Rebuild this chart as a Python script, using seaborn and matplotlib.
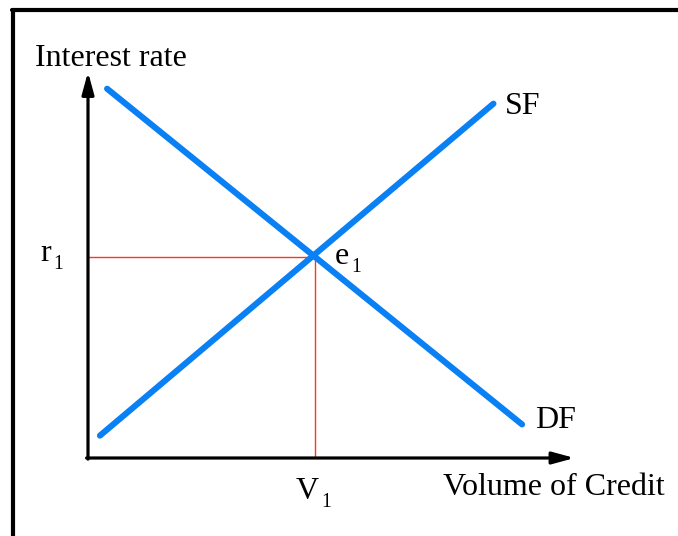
import matplotlib
matplotlib.use("Agg")
import matplotlib.pyplot as plt
from matplotlib.lines import Line2D
import seaborn as sns
import pandas as pd

# Datos del grafico (unidades arbitrarias, ejes de 0 a 10)
df_x = [0.4, 9.1]      # curva de demanda de fondos DF
df_y = [9.9, 0.9]
sf_x = [0.25, 8.5]     # curva de oferta de fondos SF
sf_y = [0.6, 9.5]
v1 = 4.75              # volumen de equilibrio
r1 = 5.4               # tasa de equilibrio

curvas = pd.DataFrame({
    "x": df_x + sf_x,
    "y": df_y + sf_y,
    "curva": ["DF", "DF", "SF", "SF"],
})

sns.set_theme(style="white")
plt.rcParams["font.family"] = ["Liberation Serif", "DejaVu Serif"]
plt.rcParams["text.color"] = "black"

fig = plt.figure(figsize=(6.78, 5.36), dpi=100)
fig.patch.set_facecolor("white")
ax = fig.add_axes([88 / 678, 78 / 536, (565 - 88) / 678, (458 - 85) / 536])
ax.set_xlim(0, 10)
ax.set_ylim(0, 10)
ax.axis("off")

# lineas rojas de equilibrio
ax.plot([0, v1], [r1, r1], color="#ff3322", lw=1.0, zorder=1)
ax.plot([v1, v1], [0, r1], color="#ff3322", lw=1.0, zorder=1)

# curvas
sns.lineplot(data=curvas, x="x", y="y", units="curva", estimator=None,
             color="#0a80f5", lw=4.4, ax=ax, legend=False,
             solid_capstyle="round", zorder=3)

# ejes con flechas
flecha = dict(arrowstyle="-|>,head_length=1.1,head_width=0.3", color="black",
              lw=2.3, shrinkA=0, shrinkB=0)
ax.annotate("", xy=(0, 10.35), xytext=(0, -0.03), arrowprops=flecha, annotation_clip=False)
ax.annotate("", xy=(10.2, 0), xytext=(-0.03, 0), arrowprops=flecha, annotation_clip=False)

fs = 23


def etiqueta(x, y, letra):
    # letra con subindice 1 (mas pequeno y mas abajo)
    ax.text(x, y, letra, fontsize=fs, ha="right", va="baseline", clip_on=False)
    ax.annotate("1", xy=(x, y), xytext=(1.5, -5.5), textcoords="offset points",
                fontsize=fs * 0.62, ha="left", va="baseline", annotation_clip=False)


ax.text(-1.11, 10.72, "Interest rate", fontsize=fs, ha="left", va="center", clip_on=False)
ax.text(8.74, 9.42, "SF", fontsize=fs, ha="left", va="center")
ax.text(9.37, 1.0, "DF", fontsize=fs, ha="left", va="center")
etiqueta(-0.78, r1 - 0.12, "r")
etiqueta(5.47, r1 - 0.2, "e")
etiqueta(4.84, -1.1, "V")
ax.text(7.44, -0.8, "Volume of Credit", fontsize=fs, ha="left", va="center", clip_on=False)

# marco de la figura (izquierda y arriba)
fig.add_artist(Line2D([13 / 678, 13 / 678], [0, 1 - 10 / 536], color="black", lw=3,
                      transform=fig.transFigure))
fig.add_artist(Line2D([11.5 / 678, 1], [1 - 10 / 536, 1 - 10 / 536], color="black", lw=3,
                      transform=fig.transFigure))

fig.savefig("out.png", dpi=100)
